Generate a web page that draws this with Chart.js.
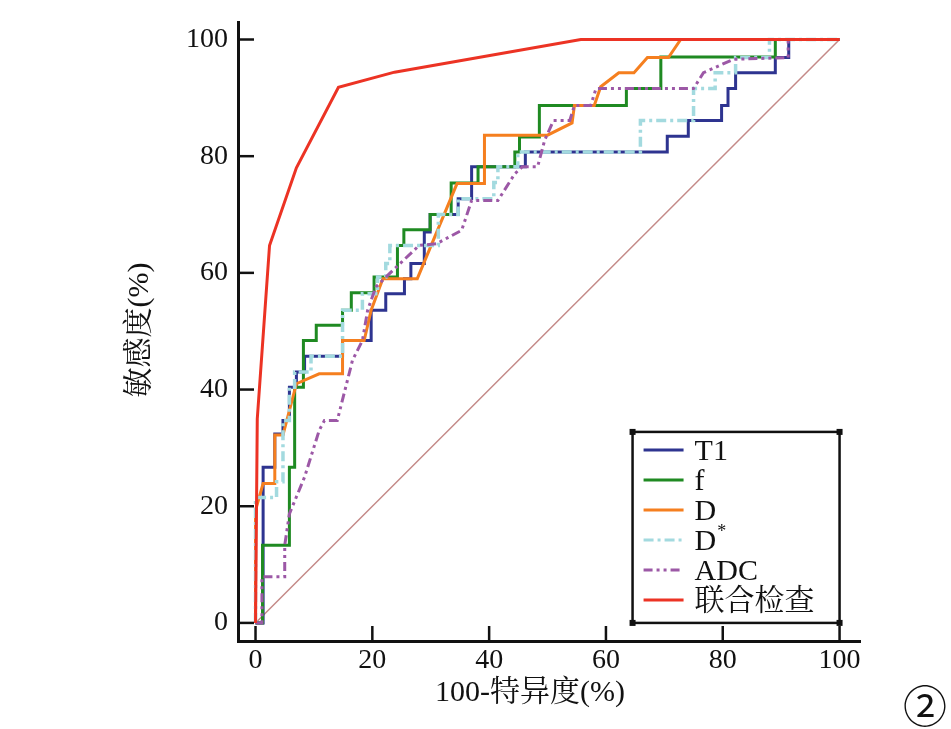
<!DOCTYPE html>
<html>
<head>
<meta charset="utf-8">
<script src="https://cdn.jsdelivr.net/npm/chart.js@4.4.1/dist/chart.umd.min.js"></script>
<style>
  html, body { margin: 0; padding: 0; background: #fff; }
</style>
</head>
<body>
<canvas id="myChart" width="951" height="729"></canvas>
<script>
const serif = '"Liberation Serif", "Noto Serif CJK SC", "Noto Sans CJK SC", serif';

const seriesNames = ['T1', 'f', 'D', 'D*', 'ADC', '联合检查'];
const xTicks = [0, 20, 40, 60, 80, 100];
const yTicks = [0, 20, 40, 60, 80, 100];
const xTitle = '100-特异度(%)';
const yTitle = '敏感度(%)';

// [100-specificity, sensitivity]
const t1 = [[0,0],[1.3,0],[1.3,26.7],[3.3,26.7],[3.3,32.4],[4.7,32.4],[4.7,34.7],[5.8,34.7],[5.8,40.4],[7.0,40.4],[7.0,43.0],[8.4,43.0],[8.4,45.7],[14.9,45.7],[14.9,48.4],[19.8,48.4],[19.8,53.6],[22.3,53.6],[22.3,56.4],[25.5,56.4],[25.5,59.0],[26.6,59.0],[26.6,61.6],[28.9,61.6],[28.9,67.0],[29.9,67.0],[29.9,70.0],[34.7,70.0],[34.7,72.7],[37.0,72.7],[37.0,78.2],[46.2,78.2],[46.2,80.7],[70.5,80.7],[70.5,83.4],[74.1,83.4],[74.1,86.1],[79.8,86.1],[79.8,88.7],[80.9,88.7],[80.9,91.6],[82.2,91.6],[82.2,94.3],[89.0,94.3],[89.0,96.9],[91.3,96.9],[91.3,100],[100,100]];
const f = [[0,0],[1.2,0],[1.2,13.3],[5.8,13.3],[5.8,26.7],[6.7,26.7],[6.7,40.4],[8.2,40.4],[8.2,48.4],[10.4,48.4],[10.4,51.0],[14.9,51.0],[14.9,53.6],[16.4,53.6],[16.4,56.6],[20.3,56.6],[20.3,59.3],[24.3,59.3],[24.3,64.7],[25.4,64.7],[25.4,67.4],[29.9,67.4],[29.9,70.0],[33.5,70.0],[33.5,75.4],[38.1,75.4],[38.1,78.2],[44.4,78.2],[44.4,80.7],[45.2,80.7],[45.2,83.3],[48.6,83.3],[48.6,88.7],[63.5,88.7],[63.5,91.6],[69.4,91.6],[69.4,97.0],[89.0,97.0],[89.0,100],[100,100]];
const d = [[0,0],[0,19.3],[1.3,23.9],[3.3,23.9],[3.3,32.2],[4.7,32.2],[7.0,41.0],[10.9,42.7],[14.9,42.7],[14.9,48.4],[18.6,48.4],[19.8,53.6],[21.8,59.0],[27.7,59.0],[34.5,75.3],[39.2,75.3],[39.2,83.6],[50.0,83.6],[54.2,85.7],[54.6,88.7],[58.0,88.7],[59.1,91.9],[62.2,94.3],[64.8,94.3],[67.1,96.9],[70.7,96.9],[72.8,100],[100,100]];
const dStar = [[0,0],[0,21.5],[3.6,21.5],[3.6,24.2],[4.7,24.2],[4.7,34.7],[5.8,34.7],[5.8,40.4],[6.7,40.4],[6.7,43.0],[9.5,43.0],[9.5,45.7],[14.9,45.7],[14.9,53.6],[18.3,53.6],[18.3,56.4],[20.9,56.4],[20.9,59.3],[22.3,59.3],[22.3,61.6],[23.0,61.6],[23.0,64.7],[31.3,64.7],[31.3,70.0],[34.7,70.0],[34.7,72.7],[40.8,72.7],[40.8,75.5],[41.5,75.5],[41.5,78.2],[44.9,78.2],[44.9,80.7],[65.9,80.7],[65.9,86.1],[75.0,86.1],[75.0,91.6],[78.7,91.6],[78.7,94.3],[82.2,94.3],[82.2,96.9],[88.0,96.9],[88.0,100],[100,100]];
const adc = [[0,0],[1.1,0],[1.1,7.9],[5.0,7.9],[5.0,13.3],[5.8,18.7],[8.4,25.0],[10.9,33.0],[11.8,34.7],[14.0,34.7],[16.6,45.0],[18.3,48.4],[19.2,53.6],[20.6,57.6],[23.5,60.4],[28.0,64.7],[31.0,65.0],[35.3,67.3],[37.0,72.4],[41.5,72.4],[44.4,77.0],[45.7,78.2],[48.3,78.2],[49.5,82.7],[51.0,86.1],[53.8,86.1],[54.6,88.7],[57.4,88.7],[58.3,91.6],[75.0,91.6],[76.7,94.3],[81.8,96.6],[91.2,96.9],[91.2,100],[100,100]];
const combined = [[0,0],[0.3,35],[2.4,64.7],[7.0,78.0],[14.2,91.8],[23.8,94.4],[55.7,100],[100,100]];
const chance = [[0,0],[100,100]];

const curves = [t1, f, d, dStar, adc, combined];
const colors = ['#2e3490', '#1f8a22', '#f57f1f', '#a3dadf', '#9c58a6', '#ec3324'];
const dashes = [[], [], [], [10, 4, 3, 4], [9, 4, 3, 4, 3, 4], []];

function pts(arr) {
  return arr.map(p => ({ x: p[0], y: p[1] }));
}

const datasets = curves.map((c, i) => ({
  label: seriesNames[i],
  data: pts(c),
  borderColor: colors[i],
  borderWidth: i == 3 ? 3.5 : 3,
  borderDash: dashes[i],
  pointRadius: 0,
  tension: 0,
  order: 6 - i
}));
datasets.push({
  label: 'ref',
  data: pts(chance),
  borderColor: '#c48a88',
  borderWidth: 1.5,
  pointRadius: 0,
  order: 10
});

// inward tick marks, axis titles, boxed legend, panel number
const extras = {
  id: 'extras',
  afterDraw(chart) {
    const ctx = chart.ctx;
    const xs = chart.scales.x, ys = chart.scales.y;
    const area = chart.chartArea;
    ctx.save();
    ctx.strokeStyle = '#111';
    ctx.lineWidth = 2.5;
    xTicks.forEach(v => {
      const px = xs.getPixelForValue(v);
      ctx.beginPath();
      ctx.moveTo(px, area.bottom);
      ctx.lineTo(px, area.bottom - 15);
      ctx.stroke();
    });
    yTicks.forEach(v => {
      const py = ys.getPixelForValue(v);
      ctx.beginPath();
      ctx.moveTo(area.left, py);
      ctx.lineTo(area.left + 16, py);
      ctx.stroke();
    });

    // axis titles
    ctx.fillStyle = '#111';
    ctx.font = '30px ' + serif;
    ctx.textAlign = 'center';
    ctx.textBaseline = 'middle';
    ctx.fillText(xTitle, 530, 693);
    ctx.save();
    ctx.translate(140, 330);
    ctx.rotate(-Math.PI / 2);
    ctx.fillText(yTitle, 0, 0);
    ctx.restore();

    // legend box
    const right = xs.getPixelForValue(100);
    const bottom = ys.getPixelForValue(0);
    const left = right - 207, top = bottom - 191;
    ctx.lineWidth = 2.5;
    ctx.strokeStyle = '#111';
    ctx.strokeRect(left, top, right - left, bottom - top);
    ctx.fillStyle = '#111';
    [[left, top], [right, top], [left, bottom], [right, bottom]].forEach(c => {
      ctx.fillRect(c[0] - 3, c[1] - 3, 6, 6);
    });
    chart.data.datasets.slice(0, seriesNames.length).forEach((ds, i) => {
      const y = top + 18 + i * 30;
      ctx.beginPath();
      ctx.setLineDash(ds.borderDash);
      ctx.strokeStyle = ds.borderColor;
      ctx.lineWidth = 3;
      ctx.moveTo(left + 11, y);
      ctx.lineTo(left + 51, y);
      ctx.stroke();
      ctx.setLineDash([]);
      ctx.fillStyle = '#111';
      ctx.textAlign = 'left';
      ctx.textBaseline = 'middle';
      ctx.font = '30px ' + serif;
      let label = ds.label;
      if (label.endsWith('*')) {
        const base = label.slice(0, -1);
        ctx.fillText(base, left + 62, y + 2);
        const w = ctx.measureText(base).width;
        ctx.font = '18px ' + serif;
        ctx.fillText('*', left + 62 + w + 1, y - 8);
      } else {
        ctx.fillText(label, left + 62, y + 2);
      }
    });

    ctx.font = '44px "Noto Sans CJK SC", "DejaVu Sans", sans-serif';
    ctx.textAlign = 'center';
    ctx.textBaseline = 'middle';
    ctx.fillStyle = '#111';
    ctx.fillText('②', 925, 706);
    ctx.restore();
  }
};

const ctx = document.getElementById('myChart').getContext('2d');
const chart = new Chart(ctx, {
  type: 'line',
  data: { datasets: datasets },
  options: {
    responsive: false,
    animation: false,
    layout: { padding: { left: 0, top: 22, right: 91, bottom: 0 } },
    plugins: { legend: { display: false }, tooltip: { enabled: false } },
    scales: {
      x: {
        type: 'linear',
        min: -3,
        max: 103.5,
        afterBuildTicks: s => { s.ticks = xTicks.map(v => ({ value: v })); },
        afterFit: s => { s.height = 88; s.paddingLeft = 0; s.paddingRight = 0; },
        grid: { display: false, drawTicks: false },
        border: { display: true, color: '#111', width: 3 },
        ticks: { color: '#111', padding: 3, maxRotation: 0, font: { family: serif, size: 28 } }
      },
      y: {
        type: 'linear',
        min: -3.1,
        max: 103,
        afterBuildTicks: s => { s.ticks = yTicks.map(v => ({ value: v })); },
        afterFit: s => { s.width = 238; s.paddingTop = 0; s.paddingBottom = 0; },
        grid: { display: false, drawTicks: false },
        border: { display: true, color: '#111', width: 3 },
        ticks: { color: '#111', padding: 10, font: { family: serif, size: 28 } }
      }
    }
  },
  plugins: [extras]
});
</script>
</body>
</html>
